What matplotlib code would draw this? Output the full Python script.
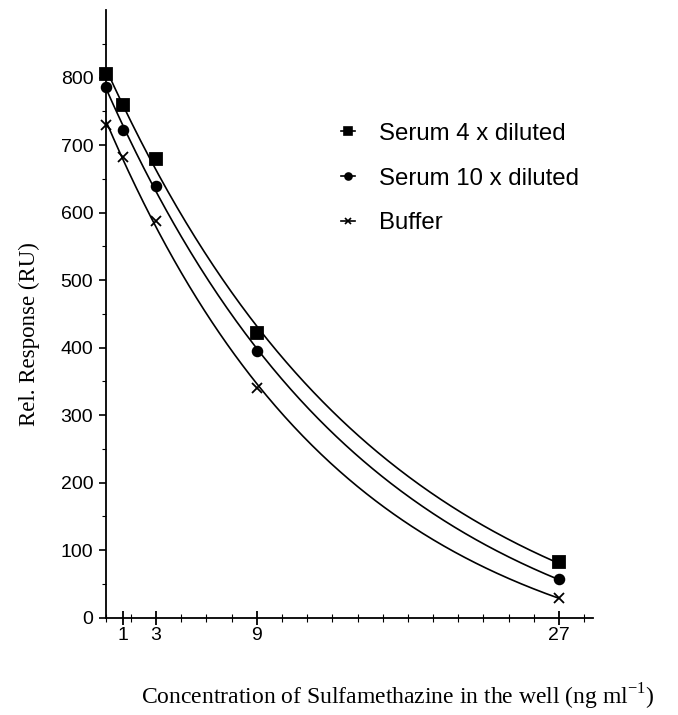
import numpy as np
import matplotlib.pyplot as plt
from matplotlib.ticker import FixedLocator, MultipleLocator

# Sulfamethazine inhibition curves: concentration in well (ng/ml) vs response (RU)
conc = [0, 1, 3, 9, 27]
serum_4x = [805, 760, 680, 422, 82]
serum_10x = [786, 723, 640, 395, 57]
buffer = [729, 683, 588, 340, 30]

labels = ['Serum 4 x diluted', 'Serum 10 x diluted', 'Buffer']
markers = ['s', 'o', 'x']
sizes = [8, 7, 7]


def exp_fit(x, y):
    # y = a*exp(-k*x) + c, k by grid search, a and c by least squares
    x = np.asarray(x, float)
    y = np.asarray(y, float)
    best = None
    for k in np.linspace(0.005, 0.5, 2000):
        A = np.column_stack([np.exp(-k * x), np.ones_like(x)])
        p, *_ = np.linalg.lstsq(A, y, rcond=None)
        err = np.sum((A @ p - y) ** 2)
        if best is None or err < best[0]:
            best = (err, k, p)
    _, k, (a, c) = best
    return lambda t: a * np.exp(-k * t) + c


fig = plt.figure(figsize=(6.78, 7.15), dpi=100)
ax = fig.add_axes([0.156, 0.136, 0.718, 0.85])

xs = np.linspace(0, 27, 300)
for ys, lab, m, s in zip([serum_4x, serum_10x, buffer], labels, markers, sizes):
    f = exp_fit(conc, ys)
    ax.plot(xs, f(xs), color='black', lw=1.2)
    ax.plot(conc, ys, linestyle='none', marker=m, ms=s, color='black',
            mew=1.3, clip_on=False)
    ax.plot([], [], color='black', lw=1.2, marker=m, ms=s - 2, mew=1.2, label=lab)

ax.set_xlim(0, 29)
ax.set_ylim(0, 900)
ax.xaxis.set_major_locator(FixedLocator([1, 3, 9, 27]))
ax.xaxis.set_minor_locator(MultipleLocator(1.5))
ax.yaxis.set_major_locator(FixedLocator(range(0, 801, 100)))
ax.yaxis.set_minor_locator(FixedLocator(range(50, 900, 100)))

for side in ['top', 'right']:
    ax.spines[side].set_visible(False)
for side in ['left', 'bottom']:
    ax.spines[side].set_linewidth(1.3)

ax.tick_params(axis='x', which='major', direction='inout', length=10, width=1.3,
               labelsize=14, pad=2)
ax.tick_params(axis='x', which='minor', direction='inout', length=6, width=0.8)
ax.tick_params(axis='y', which='major', direction='out', length=5, width=1.2,
               labelsize=14, pad=4)
ax.tick_params(axis='y', which='minor', direction='out', length=3, width=0.8)
for t in ax.get_xticklabels() + ax.get_yticklabels():
    t.set_family('Liberation Sans')

ax.set_ylabel('Rel. Response (RU)', family='Liberation Serif', fontsize=16.5)
ax.yaxis.set_label_coords(-0.135, 0.466)
ax.set_xlabel('Concentration of Sulfamethazine in the well (ng ml$^{\\mathregular{-1}}$)',
              family='Liberation Serif', fontsize=17)
ax.xaxis.set_label_coords(0.6, -0.105)

leg = ax.legend(loc='upper left', bbox_to_anchor=(0.438, 0.85), frameon=False,
                handlelength=0.6, handletextpad=1.0, labelspacing=0.95,
                prop={'family': 'Liberation Sans', 'size': 17.3})

fig.savefig('out.png', dpi=100)
